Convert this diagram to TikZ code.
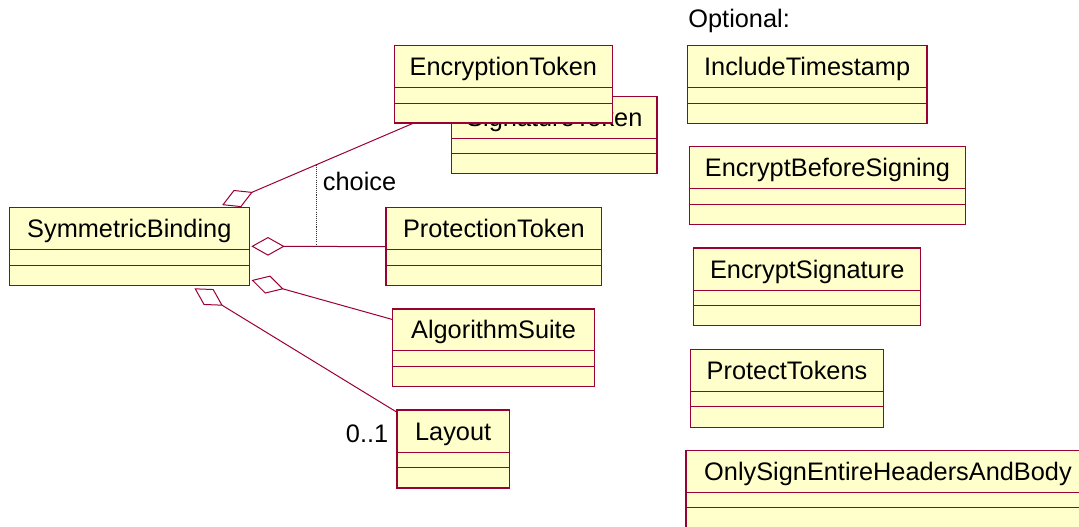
\documentclass[tikz,border=0pt]{standalone}
\usepackage{fontspec}
\setmainfont{Liberation Sans}
\usetikzlibrary{fit,calc,arrows.meta}

\definecolor{classfill}{RGB}{255,255,204}
\definecolor{classline}{RGB}{153,0,51}

\tikzset{
  classbox/.style={draw=classline, line width=0.9pt, fill=classfill, inner sep=0pt},
  classsep/.style={draw=classline, line width=0.75pt},
  classname/.style={anchor=base, inner sep=0pt, font=\fontsize{19}{22}\selectfont},
  plainlabel/.style={inner sep=0pt, font=\fontsize{19}{22}\selectfont},
  aggregation/.style={draw=classline, line width=0.75pt,
    {Diamond[open, length=25pt, width=14pt, line width=0.75pt]}-},
  choiceline/.style={draw=black!80, line width=0.6pt, dash pattern=on 0.8pt off 0.8pt},
}

% UML class: name, left, top, right, bottom, first separator, second separator, title
\newcommand\umlclass[8]{%
  \node[classbox, fit={(#2,#3) (#4,#5)}] (#1) {};
  \draw[classsep] (#2,#6) -- (#4,#6) (#2,#7) -- (#4,#7);
  \node[classname] (#1-name) at ({(#2+#4)/2},{(#3+#6)/2+9}) {#8};
}

\begin{document}
\begin{tikzpicture}[x=0.75pt, y=-0.75pt]
\clip (0,0) rectangle (1079,526);

% left-hand classes
\umlclass{sb}{9.3}{207.3}{249.3}{285.3}{249.3}{265.3}{SymmetricBinding}
\umlclass{st}{451.7}{96.7}{657}{173.3}{138.3}{153.7}{SignatureToken}
\umlclass{et}{394.3}{45.7}{612.3}{123}{87.7}{103.3}{EncryptionToken}
\umlclass{pt}{386}{207.7}{601.7}{285.5}{249.3}{265}{ProtectionToken}
\umlclass{as}{392.7}{309}{594.3}{386.7}{350.3}{366.7}{AlgorithmSuite}
\umlclass{lay}{397}{410}{509.3}{488}{452}{467.7}{Layout}

% optional property classes
\node[plainlabel, anchor=base west, fill=white, inner xsep=2pt, inner ysep=3pt] (optional) at (685.5,27.3) {Optional:};
\umlclass{it}{687.3}{45.7}{927}{123.3}{87.7}{103.3}{IncludeTimestamp}
\umlclass{ebs}{689.3}{146.7}{965.7}{224.3}{188.7}{204.3}{EncryptBeforeSigning}
\umlclass{es}{693.7}{248}{920.7}{325.7}{290}{305.7}{EncryptSignature}
\umlclass{ptk}{690.7}{349.3}{883.3}{427.3}{391.7}{406.7}{ProtectTokens}
\umlclass{osh}{686}{450.7}{1090}{530}{492.7}{507.7}{OnlySignEntireHeadersAndBody}

% aggregations from SymmetricBinding
\draw[aggregation] ($(sb.north west)+(213.4,-1.6)$) -- ($(et.south west)+(18.7,0)$)
  coordinate[pos=0.497] (choiceTop);
\draw[aggregation] ($(sb.east)+(1.4,0)$) -- (pt.west);
\draw[aggregation] ($(sb.north east)+(1.7,73.4)$) -- ($(as.north west)+(0,11)$);
\draw[aggregation] ($(sb.south west)+(185.7,2.4)$) -- ($(lay.north west)+(0,2.5)$);

% choice constraint between the token associations
\draw[choiceline] (choiceTop) -- (choiceTop |- pt.west);
\node[plainlabel, anchor=base west] (choice) at (322.7,190) {choice};

% multiplicity of Layout
\node[plainlabel, anchor=base east] (mult) at (388.5,442.7) {0..1};
\end{tikzpicture}
\end{document}
